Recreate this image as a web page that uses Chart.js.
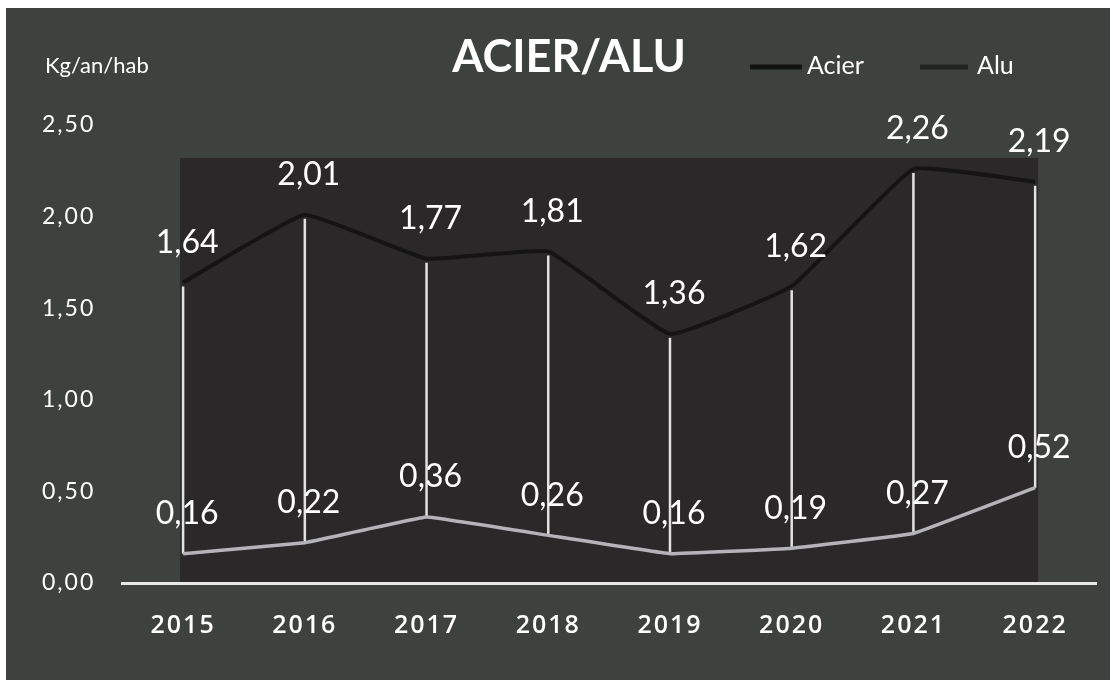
<!DOCTYPE html>
<html>
<head>
<meta charset="utf-8">
<script src="https://cdn.jsdelivr.net/npm/chart.js@4.4.1/dist/chart.umd.min.js"></script>
<style>
  html, body { margin: 0; padding: 0; background: #fff; }
  #wrap { width: 1113px; height: 686px; position: relative; }
</style>
</head>
<body>
<div id="wrap"><canvas id="acierAluChart"></canvas></div>
<script>
const years = ['2015', '2016', '2017', '2018', '2019', '2020', '2021', '2022'];
const acier = [1.64, 2.01, 1.77, 1.81, 1.36, 1.62, 2.26, 2.19];
const alu = [0.16, 0.22, 0.36, 0.26, 0.16, 0.19, 0.27, 0.52];
const yTicks = [0, 0.5, 1, 1.5, 2, 2.5];

const fmt = v => v.toFixed(2).replace('.', ',');

Chart.defaults.font.family = 'Lato';

// background, dark plot block
const backdrop = {
    id: 'backdrop',
    beforeDraw(chart) {
        const { ctx, width, height, scales } = chart;
        ctx.fillStyle = '#ffffff';
        ctx.fillRect(0, 0, width, height);
        ctx.fillStyle = '#3e423f';
        ctx.fillRect(6, 8, width - 9, height - 14);
        const x0 = scales.x.getPixelForValue(0);
        const x1 = scales.x.getPixelForValue(years.length - 1);
        const yTop = scales.y.getPixelForValue(2.32);
        const yBot = scales.y.getPixelForValue(0);
        ctx.fillStyle = '#2a2829';
        ctx.fillRect(x0 - 3, yTop, x1 - x0 + 6, yBot - yTop);
        // spaced tick labels, like the original
        ctx.letterSpacing = '2px';
    },
    beforeDatasetsDraw(chart) {
        chart.ctx.letterSpacing = '0px';
    }
};

// high-low lines between the two series
const dropLines = {
    id: 'dropLines',
    beforeDatasetsDraw(chart) {
        const { ctx } = chart;
        const top = chart.getDatasetMeta(0).data;
        const bot = chart.getDatasetMeta(1).data;
        ctx.save();
        ctx.strokeStyle = '#e2e2e2';
        ctx.lineWidth = 2.5;
        top.forEach((p, i) => {
            ctx.beginPath();
            ctx.moveTo(p.x, p.y + 4);
            ctx.lineTo(bot[i].x, bot[i].y);
            ctx.stroke();
        });
        ctx.restore();
    }
};

const valueLabels = {
    id: 'valueLabels',
    afterDatasetsDraw(chart) {
        const { ctx } = chart;
        ctx.save();
        ctx.fillStyle = '#ffffff';
        ctx.font = '32px Lato';
        ctx.textAlign = 'center';
        ctx.textBaseline = 'middle';
        chart.data.datasets.forEach((ds, di) => {
            chart.getDatasetMeta(di).data.forEach((p, i) => {
                ctx.fillText(fmt(ds.data[i]), p.x + 4, p.y - 40);
            });
        });
        ctx.restore();
    }
};

const headings = {
    id: 'headings',
    afterDraw(chart) {
        const { ctx } = chart;
        ctx.save();
        ctx.fillStyle = '#ffffff';
        ctx.textBaseline = 'middle';
        ctx.textAlign = 'left';
        ctx.font = '22px Lato';
        ctx.fillText('Kg/an/hab', 45, 66);

        ctx.textAlign = 'center';
        ctx.font = 'bold 45px Lato';
        ctx.fillText('ACIER/ALU', 569, 57);

        // legend
        ctx.textAlign = 'left';
        ctx.font = '25px Lato';
        ctx.lineWidth = 5;
        ctx.strokeStyle = '#121212';
        ctx.beginPath(); ctx.moveTo(750, 67); ctx.lineTo(802, 67); ctx.stroke();
        ctx.fillText(chart.data.datasets[0].label, 807, 66);
        ctx.strokeStyle = '#222423';
        ctx.beginPath(); ctx.moveTo(920, 67); ctx.lineTo(968, 67); ctx.stroke();
        ctx.fillText(chart.data.datasets[1].label, 977, 66);
        ctx.restore();
    }
};

new Chart(document.getElementById('acierAluChart'), {
    type: 'line',
    data: {
        labels: years,
        datasets: [{
            label: 'Acier',
            data: acier,
            borderColor: '#141414',
            borderWidth: 4,
            pointRadius: 0,
            tension: 0.1
        }, {
            label: 'Alu',
            data: alu,
            borderColor: '#b4b4b8',
            borderWidth: 3.5,
            pointRadius: 0,
            tension: 0.05
        }]
    },
    options: {
        responsive: true,
        maintainAspectRatio: false,
        animation: false,
        layout: { padding: { top: 125, left: 23, right: 17, bottom: 17 } },
        scales: {
            x: {
                offset: true,
                grid: { display: false, drawTicks: false },
                border: { display: true, color: '#e8e8e8', width: 3 },
                ticks: {
                    color: '#ffffff',
                    padding: 28,
                    font: { family: 'Open Sans', size: 25, weight: '600' }
                }
            },
            y: {
                min: 0,
                max: 2.5,
                afterBuildTicks: scale => { scale.ticks = yTicks.map(v => ({ value: v })); },
                grid: { display: false, drawTicks: false },
                border: { display: false },
                ticks: {
                    color: '#ffffff',
                    padding: 27,
                    font: { size: 23 },
                    callback: v => fmt(v)
                }
            }
        },
        plugins: {
            legend: { display: false },
            title: { display: false },
            tooltip: { enabled: false }
        }
    },
    plugins: [backdrop, dropLines, valueLabels, headings]
});
</script>
</body>
</html>
